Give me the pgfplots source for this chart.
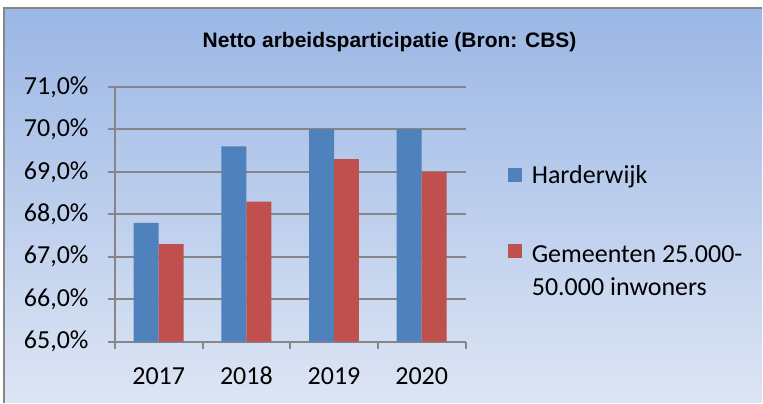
\documentclass[border=0pt]{standalone}
\usepackage{pgfplots}
\pgfplotsset{compat=1.18}
\usepackage{fontspec}
\setmainfont{Carlito}
\newfontfamily\titlefont{Liberation Sans}
\definecolor{bgtop}{RGB}{155,183,229}
\definecolor{bgbot}{RGB}{221,229,244}
\definecolor{hw}{RGB}{79,129,189}
\definecolor{gm}{RGB}{192,80,77}
\definecolor{gridc}{RGB}{134,134,134}
\begin{document}
\begin{tikzpicture}
\fill[white] (0,0) rectangle (381.5pt,201.5pt);
\shade[top color=bgtop,bottom color=bgbot] (2pt,0) rectangle (381.5pt,197.5pt);
\draw[gridc,line width=0.8pt] (2pt,0) -- (2pt,197.5pt) -- (381.5pt,197.5pt);
\node[anchor=base,inner sep=0pt,font=\titlefont\bfseries\fontsize{10.5}{12}\selectfont] at (195pt,177.85pt) {Netto arbeidsparticipatie (Bron: CBS)};
\begin{axis}[
  at={(57.5pt,30.5pt)}, anchor=south west,
  scale only axis, width=175.5pt, height=127.5pt,
  ybar=0pt, bar width=12.5pt,
  xmin=-0.5, xmax=3.5, ymin=65, ymax=71,
  ytick={65,66,67,68,69,70,71},
  yticklabels={{65,0\%},{66,0\%},{67,0\%},{68,0\%},{69,0\%},{70,0\%},{71,0\%}},
  xtick={-0.5,0.5,1.5,2.5,3.5}, xticklabels={},
  extra x ticks={0,1,2,3}, extra x tick labels={2017,2018,2019,2020},
  extra x tick style={major tick length=0pt, grid=none},
  axis x line*=bottom, axis y line*=left,
  axis line style={draw=gridc, line width=1pt, -},
  tick align=outside, major tick length=3.5pt,
  tick style={draw=gridc, line width=1pt},
  ymajorgrids, grid style={draw=gridc, line width=1pt},
  ticklabel style={font=\fontsize{13}{15}\selectfont},
  yticklabel style={anchor=east, inner sep=0pt, xshift=-9.5pt},
  xticklabel style={anchor=base, inner sep=0pt, yshift=-21.5pt},
  legend style={at={(rel axis cs:1.1197,0.694)}, anchor=north west,
    draw=none, fill=none, inner sep=0pt, row sep=26.5pt, column sep=5pt,
    font=\fontsize{13}{16.5}\selectfont, nodes={inner sep=0pt}},
  legend cell align=left,
]
\addplot[fill=hw, draw=none, legend image code/.code={\fill[hw] (0pt,-3pt) rectangle (7pt,4pt);}]
  coordinates {(0,67.8) (1,69.6) (2,70.0) (3,70.0)};
\addlegendentry{Harderwijk}
\addplot[fill=gm, draw=none, legend image code/.code={\fill[gm] (0pt,-3pt) rectangle (7pt,4pt);}]
  coordinates {(0,67.3) (1,68.3) (2,69.3) (3,69.0)};
\addlegendentry{\begin{tabular}[t]{@{}l@{}}Gemeenten 25.000-\\50.000 inwoners\end{tabular}}
\end{axis}
\end{tikzpicture}
\end{document}
